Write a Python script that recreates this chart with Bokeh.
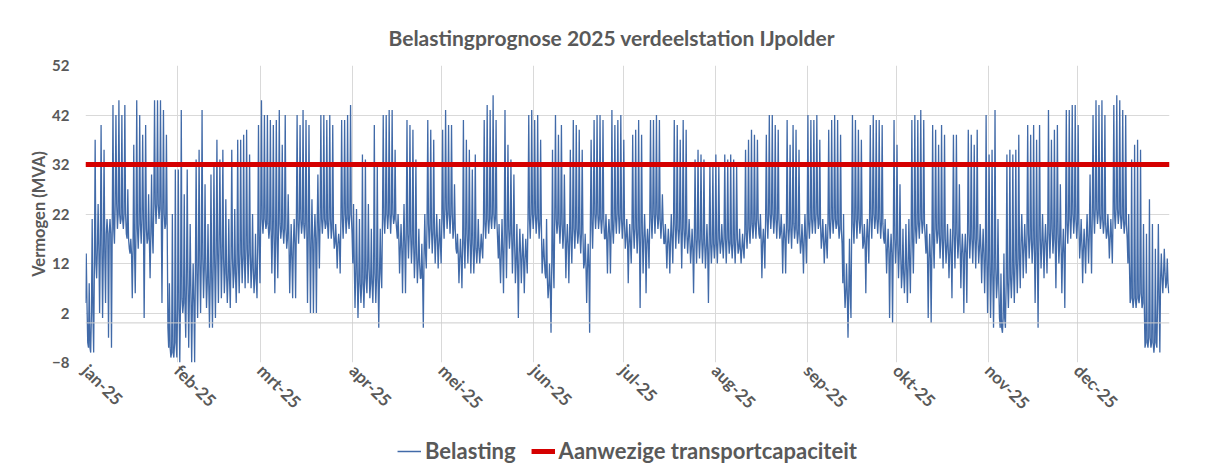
import math
from bokeh.plotting import figure
from bokeh.layouts import column
from bokeh.models import (Range1d, FixedTicker, Span, Legend, LegendItem)
from bokeh.embed import file_html
from bokeh.resources import INLINE

# ---------------- data ----------------
month_labels = ["jan-25", "feb-25", "mrt-25", "apr-25", "mei-25", "jun-25",
                "jul-25", "aug-25", "sep-25", "okt-25", "nov-25", "dec-25"]
month_start_day = [0, 31, 59, 90, 120, 151, 181, 212, 243, 273, 304, 334]
days_in_year = 365

y_ticks = [-8, 2, 12, 22, 32, 42, 52]
capacity_mva = 32

series_names = ["Belasting", "Aanwezige transportcapaciteit"]

# daily base level (MVA), Jan..Dec
daily_base = [
    4, -5, 2, 12, 15, 16, 14, 18, 18, 19, 24, 22, 21, 22, 17, 14, 15, 19, 20, 21, 19, 17, 18, 24, 24, 23, 22, 20, -5, -6, -4,
    3, 5, 4, 8, 6, 4, 10, 12, 13, 11, 8, 9, 12, 14, 16, 13, 10, 9, 13, 10, 12, 14, 13, 15, 14, 11, 9, 16,
    21, 21, 20, 19, 18, 17, 20, 19, 19, 17, 13, 16, 20, 21, 20, 20, 18, 16, 17, 19, 21, 21, 20, 21, 19, 16, 16, 21, 22, 21, 22,
    12, 10, 8, 8, 9, 11, 8, 10, 9, 10, 21, 22, 22, 22, 21, 17, 15, 16, 18, 18, 16, 14, 12, 9, 14, 20, 19, 18, 17, 16,
    21, 23, 22, 22, 19, 14, 13, 16, 18, 17, 16, 15, 15, 15, 20, 21, 21, 22, 21, 13, 14, 18, 19, 18, 16, 12, 14, 13, 13, 21, 22,
    22, 21, 20, 13, 9, 7, 12, 21, 20, 20, 18, 16, 17, 19, 19, 18, 18, 12, 11, 20, 22, 22, 21, 21, 17, 18, 19, 21, 22, 21,
    20, 17, 16, 19, 19, 18, 18, 17, 16, 21, 22, 22, 21, 20, 16, 16, 17, 20, 19, 19, 19, 18, 17, 15, 17, 17, 17, 16, 15, 16, 16,
    16, 17, 16, 17, 17, 16, 16, 17, 15, 15, 18, 19, 20, 20, 21, 17, 16, 21, 22, 22, 21, 21, 18, 17, 19, 19, 20, 19, 18, 16, 17,
    20, 21, 21, 22, 20, 17, 16, 20, 21, 21, 20, 19, 8, 6, 6, 20, 21, 21, 20, 16, 17, 21, 22, 21, 21, 20, 16, 15, 14, 17,
    16, 14, 10, 11, 12, 17, 19, 20, 21, 20, 14, 13, 16, 19, 18, 17, 17, 15, 14, 18, 18, 16, 14, 14, 18, 17, 17, 17, 15, 14, 13,
    12, 10, 11, 8, -1, 1, 8, 9, 10, 12, 13, 16, 15, 18, 17, 16, 15, 17, 16, 16, 18, 19, 17, 18, 16, 14, 20, 21, 22, 21,
    20, 16, 15, 17, 18, 22, 23, 22, 21, 20, 18, 17, 22, 23, 22, 21, 20, 12, 5, 5, 5, 6, 4, -4, -3, -4, -4, 5, 9, 10, 8,
]

# daily peak (MVA)
daily_peak = [
    14, 8, 21, 37, 24, 40, 35, 21, 21, 44, 42, 45, 42, 44, 27, 17, 36, 45, 42, 38, 40, 26, 30, 45, 45, 45, 43, 38, 8, 22, 31,
    31, 43, 26, 31, 20, 12, 33, 35, 43, 28, 20, 30, 32, 37, 33, 35, 25, 21, 35, 23, 37, 37, 38, 39, 34, 22, 18, 40,
    45, 42, 42, 41, 40, 41, 43, 36, 42, 26, 20, 21, 42, 40, 43, 41, 40, 25, 22, 30, 42, 42, 41, 42, 40, 20, 18, 41, 41, 42, 44,
    24, 23, 21, 34, 33, 24, 19, 40, 32, 19, 42, 42, 43, 43, 35, 22, 20, 24, 41, 40, 39, 33, 19, 16, 22, 41, 39, 37, 22, 21,
    39, 43, 40, 40, 28, 18, 17, 41, 37, 35, 31, 34, 21, 18, 41, 44, 43, 46, 41, 20, 21, 43, 36, 33, 30, 20, 19, 18, 17, 42, 43,
    41, 42, 37, 17, 21, 12, 35, 42, 38, 40, 30, 20, 35, 41, 40, 39, 35, 18, 16, 37, 41, 42, 42, 41, 22, 21, 43, 40, 41, 42,
    37, 21, 20, 38, 39, 41, 38, 22, 19, 41, 41, 42, 41, 26, 20, 19, 22, 41, 40, 37, 41, 39, 21, 19, 33, 35, 34, 33, 20, 32, 32,
    34, 32, 20, 34, 33, 34, 33, 32, 19, 18, 35, 37, 39, 38, 37, 22, 19, 38, 42, 42, 40, 39, 22, 20, 41, 36, 40, 39, 35, 20, 22,
    42, 41, 41, 42, 37, 21, 20, 39, 41, 42, 41, 38, 22, 12, 17, 42, 41, 39, 37, 20, 21, 40, 42, 41, 41, 40, 21, 19, 18, 41,
    36, 28, 19, 20, 21, 41, 42, 41, 43, 41, 20, 18, 40, 39, 36, 40, 38, 20, 19, 38, 38, 28, 18, 18, 39, 38, 36, 39, 20, 19, 42,
    34, 35, 43, 21, 10, 14, 34, 35, 34, 35, 38, 22, 20, 40, 38, 40, 37, 40, 22, 20, 43, 37, 39, 40, 28, 19, 43, 43, 44, 44,
    40, 21, 19, 22, 30, 42, 45, 44, 45, 42, 22, 21, 44, 46, 45, 43, 42, 22, 33, 36, 37, 35, 20, 18, 25, 20, 15, 20, 14, 15, 13,
]

# daily low (MVA)
daily_low = [
    -4, -6, -6, 9, 2, 1, 4, -3, -5, 16, 19, 20, 19, 18, 15, 5, 6, 15, 16, 1, 16, 9, 14, 20, 21, 4, 19, -1, -7, -7, -7,
    -8, 2, -3, -5, -8, -8, 1, 2, 5, 3, -1, -1, 1, 4, 5, 6, 4, 3, 7, 4, 6, 8, 7, 8, 7, 6, 5, 8,
    18, 19, 17, 10, 6, 9, 17, 16, 15, 6, 5, 5, 16, 18, 17, 4, 2, 2, 2, 11, 18, 19, 17, 17, 15, 11, 10, 17, 18, 19, 18,
    3, 1, 4, 3, 6, 5, 4, 4, -1, 7, 18, 19, 18, 20, 19, 10, 6, 6, 13, 12, 9, 8, 9, -1, 11, 15, 14, 12, 11, 12,
    17, 19, 18, 17, 15, 8, 7, 11, 12, 10, 10, 12, 12, 13, 17, 18, 19, 19, 17, 8, 6, 9, 15, 10, 8, 1, 8, 6, 10, 17, 19,
    18, 17, 10, 10, 5, -2, 7, 18, 16, 15, 9, 8, 12, 15, 16, 14, 11, 4, -2, 15, 19, 19, 18, 17, 10, 10, 16, 18, 18, 17,
    15, 8, 12, 15, 14, 3, 10, 6, 11, 17, 18, 19, 17, 16, 11, 10, 12, 15, 16, 11, 15, 14, 12, 6, 12, 13, 12, 11, 4, 12, 13,
    12, 14, 13, 12, 14, 13, 12, 14, 12, 13, 15, 16, 17, 17, 18, 9, 11, 17, 19, 18, 17, 17, 10, 10, 16, 15, 17, 16, 14, 10, 12,
    17, 18, 18, 19, 15, 12, 13, 17, 18, 19, 17, 16, 3, -3, 1, 16, 17, 18, 15, 6, 12, 17, 19, 18, 17, 17, 10, 1, 0, 12,
    9, 7, 6, 4, 6, 10, 16, 17, 18, 17, 1, 0, 11, 16, 13, 11, 12, 9, 5, 11, 13, 7, 2, 4, 13, 12, 11, 12, 8, 6, 2,
    1, -1, 5, 1, -2, -1, 3, 5, 4, 6, 7, 9, 10, 13, 12, 4, -1, 11, 9, 10, 13, 14, 7, 12, 6, 3, 16, 17, 18, 17,
    13, 8, 10, 12, 10, 18, 20, 19, 18, 17, 13, 12, 19, 20, 19, 18, 17, 4, 3, 3, 4, 3, -5, -5, -5, -6, -5, -6, 6, 7, 6,
]

# ---------------- build the intra-day trace from the daily values ----------------
xs, ys = [], []
for d in range(days_in_year):
    xs += [d, d + 0.25, d + 0.5, d + 0.75]
    ys += [daily_base[d], daily_peak[d], daily_base[d], daily_low[d]]
cap_x = [0, days_in_year]
cap_y = [capacity_mva, capacity_mva]

GREY = "#595959"
FONT = "Lato"
BLUE = "#416aa8"
RED = "#D50000"

p = figure(frame_width=1084, frame_height=297,
           output_backend="svg", toolbar_location=None,
           x_range=Range1d(0, days_in_year), y_range=Range1d(y_ticks[0], y_ticks[-1]),
           min_border_left=85, min_border_right=36, min_border_top=65, min_border_bottom=55)
p.outline_line_color = None
p.background_fill_color = "white"
p.border_fill_color = "white"

p.title.text = "Belastingprognose 2025 verdeelstation IJpolder"
p.title.align = "left"
p.title.text_font = FONT
p.title.text_font_size = "21px"
p.title.text_font_style = "bold"
p.title.text_color = GREY
p.title.offset = 303
p.title.standoff = 32

# grid
p.xgrid.ticker = FixedTicker(ticks=month_start_day + [days_in_year])
p.ygrid.ticker = FixedTicker(ticks=y_ticks)
p.xgrid.grid_line_color = "#d9d9d9"
p.ygrid.grid_line_color = "#d9d9d9"

zero_line = Span(location=0, dimension="width", line_color="#cccccc", line_width=1)
p.add_layout(zero_line)

# axes
p.xaxis.ticker = FixedTicker(ticks=month_start_day)
p.xaxis.major_label_overrides = {d: lab for d, lab in zip(month_start_day, month_labels)}
p.xaxis.major_label_orientation = -math.pi / 4
p.xaxis.axis_line_color = None
p.xaxis.major_tick_line_color = None
p.xaxis.minor_tick_line_color = None
p.xaxis.major_tick_out = 0
p.xaxis.minor_tick_out = 0
p.xaxis.major_label_text_font = FONT
p.xaxis.major_label_text_font_size = "17px"
p.xaxis.major_label_text_font_style = "bold"
p.xaxis.major_label_text_color = GREY
p.xaxis.major_label_standoff = 5

p.yaxis.ticker = FixedTicker(ticks=y_ticks)
p.yaxis.axis_line_color = None
p.yaxis.major_tick_line_color = None
p.yaxis.minor_tick_line_color = None
p.yaxis.major_tick_out = 0
p.yaxis.minor_tick_out = 0
p.yaxis.major_label_text_font = FONT
p.yaxis.major_label_text_font_size = "15px"
p.yaxis.major_label_text_font_style = "bold"
p.yaxis.major_label_text_color = GREY
p.yaxis.major_label_standoff = 16
p.yaxis.axis_label = "Vermogen (MVA)"
p.yaxis.axis_label_text_font = FONT
p.yaxis.axis_label_text_font_size = "16.5px"
p.yaxis.axis_label_text_font_style = "bold"
p.yaxis.axis_label_text_color = GREY
p.yaxis.axis_label_standoff = 0

# series
p.line(xs, ys, line_color=BLUE, line_width=1.3)
p.line(cap_x, cap_y, line_color=RED, line_width=5)

# ---------------- legend strip below the chart ----------------
# same two series, drawn in a strip whose value range lies far outside the data,
# so only their legend entries are visible
leg = figure(width=1205, height=43, output_backend="svg", toolbar_location=None,
             x_axis_type=None, y_axis_type=None, min_border=0,
             x_range=Range1d(0, days_in_year), y_range=Range1d(1000, 1001))
leg.outline_line_color = None
leg.grid.visible = False
leg.background_fill_color = "white"
leg_load = leg.line(xs, ys, line_color=BLUE, line_width=1.5)
leg_cap = leg.line(cap_x, cap_y, line_color=RED, line_width=5)

legend = Legend(items=[LegendItem(label=series_names[0], renderers=[leg_load]),
                       LegendItem(label=series_names[1], renderers=[leg_cap])],
                orientation="horizontal", location="bottom_center")
legend.label_text_font = FONT
legend.label_text_font_size = "22px"
legend.label_text_font_style = "bold"
legend.label_text_color = GREY
legend.border_line_color = None
legend.background_fill_alpha = 0
legend.glyph_width = 24
legend.spacing = 15
legend.margin = 2
legend.padding = 3
legend.label_standoff = 4
leg.add_layout(legend)

layout = column(p, leg, spacing=0)
open("out.html", "w").write(file_html(layout, INLINE))
